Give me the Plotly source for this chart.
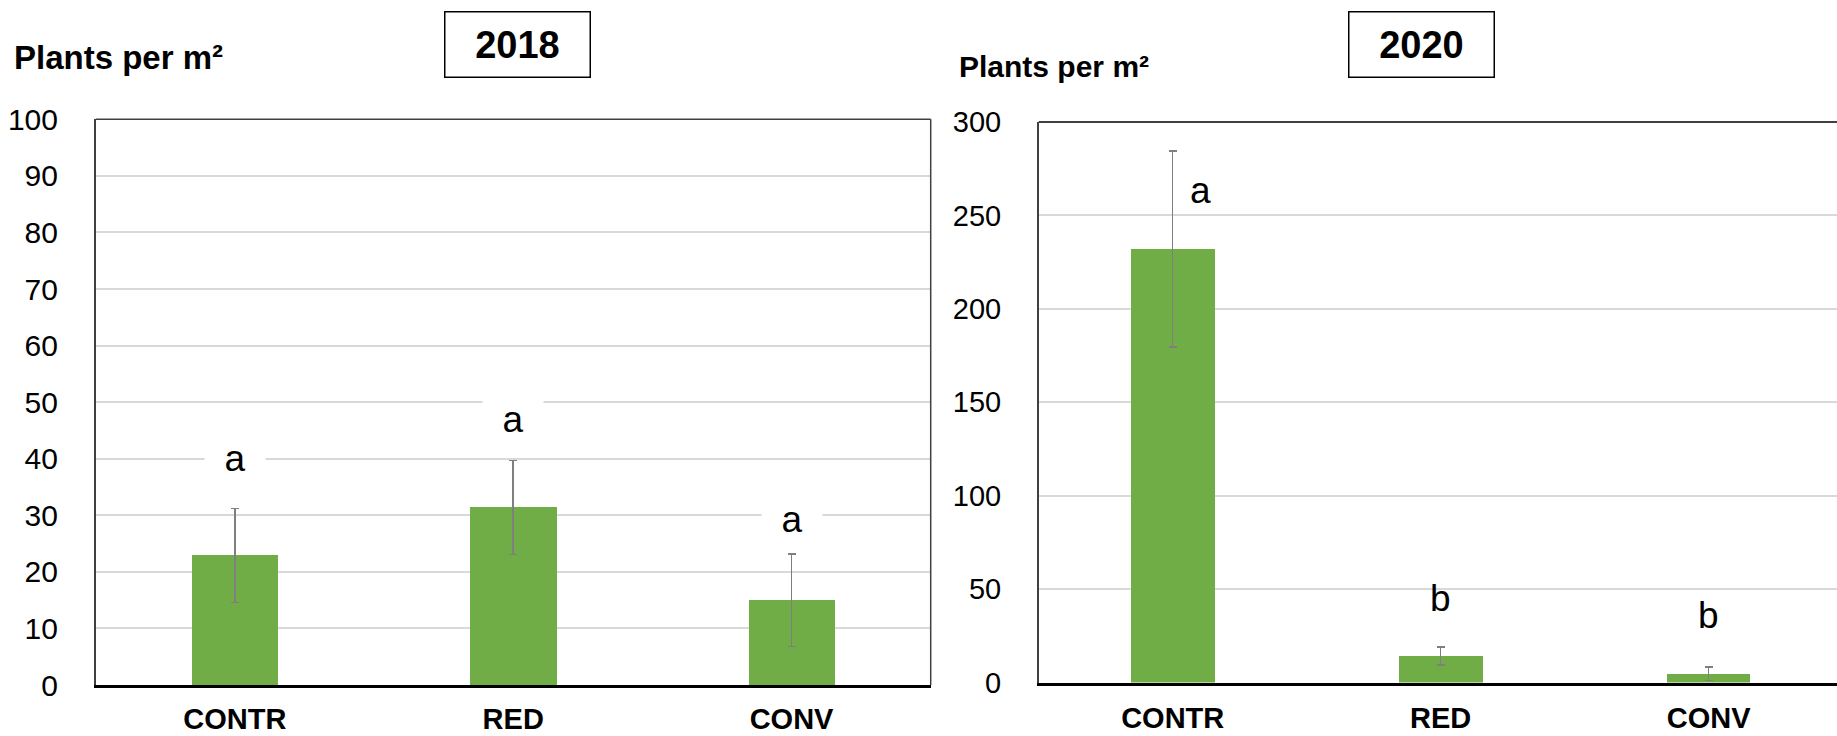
import plotly.graph_objects as go

# Treatments
categories = ["CONTR", "RED", "CONV"]

# 2018: plants per m² (mean and error)
mean_2018 = [22.9, 31.4, 15.0]
err_2018 = [8.3, 8.3, 8.2]
letters_2018 = ["a", "a", "a"]

# 2020: plants per m² (mean and error)
mean_2020 = [232.0, 14.2, 4.8]
err_2020 = [52.5, 4.8, 3.6]
letters_2020 = ["a", "b", "b"]

y_ticks_2018 = [0, 10, 20, 30, 40, 50, 60, 70, 80, 90, 100]
y_ticks_2020 = [0, 50, 100, 150, 200, 250, 300]

BAR_GREEN = "#70AD47"
ERR_GREY = "#7F7F7F"
GRID = "#D9D9D9"
BORDER = "#404040"
FONT = "Liberation Sans, Arial, sans-serif"

W, H = 1837, 736

fig = go.Figure()

fig.add_trace(go.Bar(
    x=categories, y=mean_2018, xaxis="x", yaxis="y",
    marker=dict(color=BAR_GREEN, line=dict(width=0)), width=0.31,
    error_y=dict(type="data", array=err_2018, color=ERR_GREY, thickness=1.5, width=4),
    showlegend=False, hoverinfo="skip",
))
fig.add_trace(go.Bar(
    x=categories, y=mean_2020, xaxis="x2", yaxis="y2",
    marker=dict(color=BAR_GREEN, line=dict(width=0)), width=0.31,
    error_y=dict(type="data", array=err_2020, color=ERR_GREY, thickness=1.5, width=4),
    showlegend=False, hoverinfo="skip",
))

# plot-area boxes in pixel terms
left_x0, left_x1 = 95.7 / W, 930.7 / W
left_y0, left_y1 = (H - 685) / H, (H - 119.3) / H
right_x0, right_x1 = 1038.7 / W, 1.0
right_y0, right_y1 = (H - 682.5) / H, (H - 122) / H

common_x = dict(
    type="category", showgrid=False, zeroline=False, automargin=False,
    showline=True, linecolor="black", linewidth=2.5,
    ticks="", ticklabelstandoff=6,
    tickfont=dict(family=FONT, size=29, color="black", weight="bold"),
)
common_y = dict(
    showgrid=True, gridcolor=GRID, gridwidth=1.5, zeroline=False, automargin=False,
    showline=True, linecolor=BORDER, linewidth=1.5,
    ticks="", ticklabelstandoff=30,
)

fig.update_layout(
    width=W, height=H,
    margin=dict(l=0, r=0, t=0, b=0, autoexpand=False),
    paper_bgcolor="white", plot_bgcolor="white",
    bargap=0,
    xaxis=dict(common_x, domain=[left_x0, left_x1], range=[-0.5, 2.5], anchor="y"),
    yaxis=dict(common_y, domain=[left_y0, left_y1], range=[0, 100], anchor="x",
               tickvals=y_ticks_2018,
               tickfont=dict(family=FONT, size=30, color="black")),
    xaxis2=dict(common_x, domain=[right_x0, right_x1], range=[-0.5, 2.479], anchor="y2",
                ticklabelstandoff=8),
    yaxis2=dict(common_y, domain=[right_y0, right_y1], range=[0, 300], anchor="x2",
                tickvals=y_ticks_2020,
                tickfont=dict(family=FONT, size=29, color="black")),
)

# box borders: top + right on the 2018 panel, top on the 2020 panel
fig.add_shape(type="line", xref="x domain", yref="y domain", x0=0, x1=1, y0=1, y1=1,
              line=dict(color=BORDER, width=1.5))
fig.add_shape(type="line", xref="x domain", yref="y domain", x0=1, x1=1, y0=0, y1=1,
              line=dict(color=BORDER, width=1.5))
fig.add_shape(type="line", xref="x2 domain", yref="y2 domain", x0=0, x1=1, y0=1, y1=1,
              line=dict(color=BORDER, width=2))

# significance letters
letter_y_2018 = [40.0, 47.0, 29.3]
for cat, txt, yv in zip(categories, letters_2018, letter_y_2018):
    fig.add_annotation(x=cat, y=yv, xref="x", yref="y", text=txt, showarrow=False,
                       font=dict(family=FONT, size=37, color="black"),
                       bgcolor="white", width=60, borderpad=0,
                       xanchor="center", yanchor="middle")

letter_y_2020 = [263.5, 45.0, 36.1]
letter_dx_2020 = [28, 0, 0]
for cat, txt, yv, dx in zip(categories, letters_2020, letter_y_2020, letter_dx_2020):
    fig.add_annotation(x=cat, y=yv, xref="x2", yref="y2", text=txt, showarrow=False,
                       xshift=dx, font=dict(family=FONT, size=37, color="black"),
                       xanchor="center", yanchor="middle")

# y-axis captions
fig.add_annotation(x=12 / W, y=(H - 58) / H, xref="paper", yref="paper",
                   text="<b>Plants per m²</b>", showarrow=False,
                   font=dict(family=FONT, size=33, color="black"),
                   xanchor="left", yanchor="middle")
fig.add_annotation(x=957 / W, y=(H - 66) / H, xref="paper", yref="paper",
                   text="<b>Plants per m²</b>", showarrow=False,
                   font=dict(family=FONT, size=30, color="black"),
                   xanchor="left", yanchor="middle")

# year boxes
for cx, year in [(517.5, "2018"), (1421.5, "2020")]:
    fig.add_annotation(x=cx / W, y=(H - 45) / H, xref="paper", yref="paper",
                       text=f"<b>{year}</b>", showarrow=False,
                       font=dict(family=FONT, size=38, color="black"),
                       width=144, height=64, bordercolor="black", borderwidth=1.5,
                       borderpad=0, bgcolor="white",
                       xanchor="center", yanchor="middle")

fig.write_html("out.html")
